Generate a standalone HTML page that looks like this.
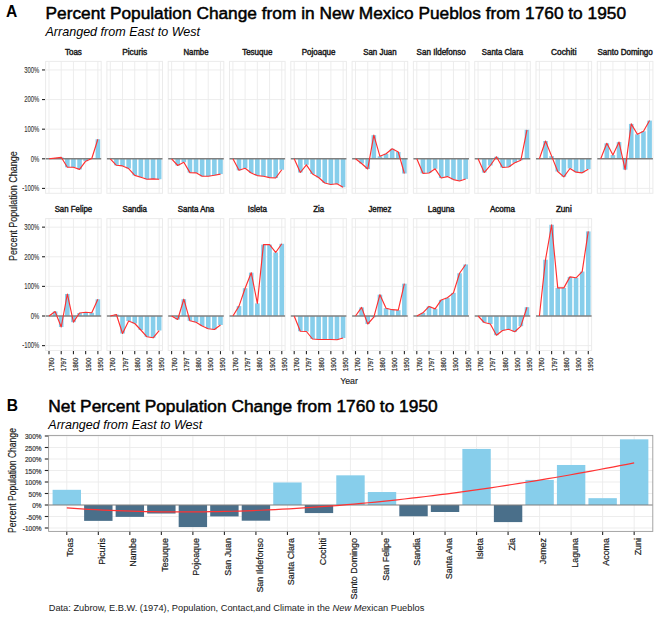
<!DOCTYPE html><html><head><meta charset="utf-8"><title>Percent Population Change in New Mexico Pueblos</title>
<style>html,body{margin:0;padding:0;background:#fff;}svg{display:block;}</style></head><body>
<svg width="660" height="618" viewBox="0 0 660 618" font-family="Liberation Sans, sans-serif">
<rect width="660" height="618" fill="#fff"/>
<text x="6.00" y="17.00" font-size="15.60" font-weight="bold">A</text>
<text x="45.50" y="19.00" font-size="17.40" textLength="580.50" lengthAdjust="spacingAndGlyphs" stroke="#000" stroke-width="0.5">Percent Population Change from in New Mexico Pueblos from 1760 to 1950</text>
<text x="45.50" y="35.50" font-size="12.60" font-style="italic" textLength="154.50" lengthAdjust="spacingAndGlyphs">Arranged from East to West</text>
<rect x="45.60" y="61.40" width="55.60" height="131.90" fill="#fff" stroke="#EBEBEB" stroke-width="1"/>
<line x1="49.00" y1="61.40" x2="49.00" y2="193.30" stroke="#EBEBEB" stroke-width="0.9"/>
<line x1="61.22" y1="61.40" x2="61.22" y2="193.30" stroke="#EBEBEB" stroke-width="0.9"/>
<line x1="73.44" y1="61.40" x2="73.44" y2="193.30" stroke="#EBEBEB" stroke-width="0.9"/>
<line x1="85.66" y1="61.40" x2="85.66" y2="193.30" stroke="#EBEBEB" stroke-width="0.9"/>
<line x1="97.88" y1="61.40" x2="97.88" y2="193.30" stroke="#EBEBEB" stroke-width="0.9"/>
<line x1="45.60" y1="69.94" x2="101.20" y2="69.94" stroke="#EBEBEB" stroke-width="0.9"/>
<line x1="45.60" y1="99.56" x2="101.20" y2="99.56" stroke="#EBEBEB" stroke-width="0.9"/>
<line x1="45.60" y1="129.18" x2="101.20" y2="129.18" stroke="#EBEBEB" stroke-width="0.9"/>
<line x1="45.60" y1="188.42" x2="101.20" y2="188.42" stroke="#EBEBEB" stroke-width="0.9"/>
<rect x="52.81" y="158.06" width="4.60" height="0.74" fill="#87CEEB"/>
<rect x="58.92" y="157.32" width="4.60" height="1.48" fill="#87CEEB"/>
<rect x="65.03" y="158.80" width="4.60" height="8.47" fill="#87CEEB"/>
<rect x="71.14" y="158.80" width="4.60" height="8.47" fill="#87CEEB"/>
<rect x="77.25" y="158.80" width="4.60" height="10.60" fill="#87CEEB"/>
<rect x="83.36" y="158.80" width="4.60" height="2.37" fill="#87CEEB"/>
<rect x="89.47" y="158.50" width="4.60" height="0.30" fill="#87CEEB"/>
<rect x="95.58" y="139.25" width="4.60" height="19.55" fill="#87CEEB"/>
<line x1="45.60" y1="158.80" x2="101.20" y2="158.80" stroke="#808080" stroke-width="1.6"/>
<polyline points="49.00,158.80 55.11,158.06 61.22,157.32 67.33,167.27 73.44,167.27 79.55,169.40 85.66,161.17 91.77,158.50 97.88,139.25" fill="none" stroke="#FF3030" stroke-width="1.15" stroke-linejoin="round"/>
<text x="73.40" y="54.50" font-size="8.20" text-anchor="middle" textLength="16.95" lengthAdjust="spacingAndGlyphs" fill="#1a1a1a" stroke="#1a1a1a" stroke-width="0.42">Toas</text>
<rect x="106.90" y="61.40" width="55.60" height="131.90" fill="#fff" stroke="#EBEBEB" stroke-width="1"/>
<line x1="110.30" y1="61.40" x2="110.30" y2="193.30" stroke="#EBEBEB" stroke-width="0.9"/>
<line x1="122.52" y1="61.40" x2="122.52" y2="193.30" stroke="#EBEBEB" stroke-width="0.9"/>
<line x1="134.74" y1="61.40" x2="134.74" y2="193.30" stroke="#EBEBEB" stroke-width="0.9"/>
<line x1="146.96" y1="61.40" x2="146.96" y2="193.30" stroke="#EBEBEB" stroke-width="0.9"/>
<line x1="159.18" y1="61.40" x2="159.18" y2="193.30" stroke="#EBEBEB" stroke-width="0.9"/>
<line x1="106.90" y1="69.94" x2="162.50" y2="69.94" stroke="#EBEBEB" stroke-width="0.9"/>
<line x1="106.90" y1="99.56" x2="162.50" y2="99.56" stroke="#EBEBEB" stroke-width="0.9"/>
<line x1="106.90" y1="129.18" x2="162.50" y2="129.18" stroke="#EBEBEB" stroke-width="0.9"/>
<line x1="106.90" y1="188.42" x2="162.50" y2="188.42" stroke="#EBEBEB" stroke-width="0.9"/>
<rect x="114.11" y="158.80" width="4.60" height="6.49" fill="#87CEEB"/>
<rect x="120.22" y="158.80" width="4.60" height="7.11" fill="#87CEEB"/>
<rect x="126.33" y="158.80" width="4.60" height="9.77" fill="#87CEEB"/>
<rect x="132.44" y="158.80" width="4.60" height="16.59" fill="#87CEEB"/>
<rect x="138.55" y="158.80" width="4.60" height="18.48" fill="#87CEEB"/>
<rect x="144.66" y="158.80" width="4.60" height="20.44" fill="#87CEEB"/>
<rect x="150.77" y="158.80" width="4.60" height="20.08" fill="#87CEEB"/>
<rect x="156.88" y="158.80" width="4.60" height="20.44" fill="#87CEEB"/>
<line x1="106.90" y1="158.80" x2="162.50" y2="158.80" stroke="#808080" stroke-width="1.6"/>
<polyline points="110.30,158.80 116.41,165.29 122.52,165.91 128.63,168.57 134.74,175.39 140.85,177.28 146.96,179.24 153.07,178.88 159.18,179.24" fill="none" stroke="#FF3030" stroke-width="1.15" stroke-linejoin="round"/>
<text x="134.70" y="54.50" font-size="8.20" text-anchor="middle" textLength="25.01" lengthAdjust="spacingAndGlyphs" fill="#1a1a1a" stroke="#1a1a1a" stroke-width="0.42">Picuris</text>
<rect x="168.20" y="61.40" width="55.60" height="131.90" fill="#fff" stroke="#EBEBEB" stroke-width="1"/>
<line x1="171.60" y1="61.40" x2="171.60" y2="193.30" stroke="#EBEBEB" stroke-width="0.9"/>
<line x1="183.82" y1="61.40" x2="183.82" y2="193.30" stroke="#EBEBEB" stroke-width="0.9"/>
<line x1="196.04" y1="61.40" x2="196.04" y2="193.30" stroke="#EBEBEB" stroke-width="0.9"/>
<line x1="208.26" y1="61.40" x2="208.26" y2="193.30" stroke="#EBEBEB" stroke-width="0.9"/>
<line x1="220.48" y1="61.40" x2="220.48" y2="193.30" stroke="#EBEBEB" stroke-width="0.9"/>
<line x1="168.20" y1="69.94" x2="223.80" y2="69.94" stroke="#EBEBEB" stroke-width="0.9"/>
<line x1="168.20" y1="99.56" x2="223.80" y2="99.56" stroke="#EBEBEB" stroke-width="0.9"/>
<line x1="168.20" y1="129.18" x2="223.80" y2="129.18" stroke="#EBEBEB" stroke-width="0.9"/>
<line x1="168.20" y1="188.42" x2="223.80" y2="188.42" stroke="#EBEBEB" stroke-width="0.9"/>
<rect x="175.41" y="158.80" width="4.60" height="6.69" fill="#87CEEB"/>
<rect x="181.52" y="158.80" width="4.60" height="3.50" fill="#87CEEB"/>
<rect x="187.63" y="158.80" width="4.60" height="13.80" fill="#87CEEB"/>
<rect x="193.74" y="158.80" width="4.60" height="14.01" fill="#87CEEB"/>
<rect x="199.85" y="158.80" width="4.60" height="17.48" fill="#87CEEB"/>
<rect x="205.96" y="158.80" width="4.60" height="17.48" fill="#87CEEB"/>
<rect x="212.07" y="158.80" width="4.60" height="16.50" fill="#87CEEB"/>
<rect x="218.18" y="158.80" width="4.60" height="15.28" fill="#87CEEB"/>
<line x1="168.20" y1="158.80" x2="223.80" y2="158.80" stroke="#808080" stroke-width="1.6"/>
<polyline points="171.60,158.80 177.71,165.49 183.82,162.30 189.93,172.60 196.04,172.81 202.15,176.28 208.26,176.28 214.37,175.30 220.48,174.08" fill="none" stroke="#FF3030" stroke-width="1.15" stroke-linejoin="round"/>
<text x="196.00" y="54.50" font-size="8.20" text-anchor="middle" textLength="25.01" lengthAdjust="spacingAndGlyphs" fill="#1a1a1a" stroke="#1a1a1a" stroke-width="0.42">Nambe</text>
<rect x="229.50" y="61.40" width="55.60" height="131.90" fill="#fff" stroke="#EBEBEB" stroke-width="1"/>
<line x1="232.90" y1="61.40" x2="232.90" y2="193.30" stroke="#EBEBEB" stroke-width="0.9"/>
<line x1="245.12" y1="61.40" x2="245.12" y2="193.30" stroke="#EBEBEB" stroke-width="0.9"/>
<line x1="257.34" y1="61.40" x2="257.34" y2="193.30" stroke="#EBEBEB" stroke-width="0.9"/>
<line x1="269.56" y1="61.40" x2="269.56" y2="193.30" stroke="#EBEBEB" stroke-width="0.9"/>
<line x1="281.78" y1="61.40" x2="281.78" y2="193.30" stroke="#EBEBEB" stroke-width="0.9"/>
<line x1="229.50" y1="69.94" x2="285.10" y2="69.94" stroke="#EBEBEB" stroke-width="0.9"/>
<line x1="229.50" y1="99.56" x2="285.10" y2="99.56" stroke="#EBEBEB" stroke-width="0.9"/>
<line x1="229.50" y1="129.18" x2="285.10" y2="129.18" stroke="#EBEBEB" stroke-width="0.9"/>
<line x1="229.50" y1="188.42" x2="285.10" y2="188.42" stroke="#EBEBEB" stroke-width="0.9"/>
<rect x="236.71" y="158.80" width="4.60" height="11.49" fill="#87CEEB"/>
<rect x="242.82" y="158.80" width="4.60" height="9.48" fill="#87CEEB"/>
<rect x="248.93" y="158.80" width="4.60" height="14.22" fill="#87CEEB"/>
<rect x="255.04" y="158.80" width="4.60" height="16.79" fill="#87CEEB"/>
<rect x="261.15" y="158.80" width="4.60" height="17.48" fill="#87CEEB"/>
<rect x="267.26" y="158.80" width="4.60" height="18.81" fill="#87CEEB"/>
<rect x="273.37" y="158.80" width="4.60" height="19.19" fill="#87CEEB"/>
<rect x="279.48" y="158.80" width="4.60" height="10.96" fill="#87CEEB"/>
<line x1="229.50" y1="158.80" x2="285.10" y2="158.80" stroke="#808080" stroke-width="1.6"/>
<polyline points="232.90,158.80 239.01,170.29 245.12,168.28 251.23,173.02 257.34,175.59 263.45,176.28 269.56,177.61 275.67,177.99 281.78,169.76" fill="none" stroke="#FF3030" stroke-width="1.15" stroke-linejoin="round"/>
<text x="257.30" y="54.50" font-size="8.20" text-anchor="middle" textLength="30.28" lengthAdjust="spacingAndGlyphs" fill="#1a1a1a" stroke="#1a1a1a" stroke-width="0.42">Tesuque</text>
<rect x="290.80" y="61.40" width="55.60" height="131.90" fill="#fff" stroke="#EBEBEB" stroke-width="1"/>
<line x1="294.20" y1="61.40" x2="294.20" y2="193.30" stroke="#EBEBEB" stroke-width="0.9"/>
<line x1="306.42" y1="61.40" x2="306.42" y2="193.30" stroke="#EBEBEB" stroke-width="0.9"/>
<line x1="318.64" y1="61.40" x2="318.64" y2="193.30" stroke="#EBEBEB" stroke-width="0.9"/>
<line x1="330.86" y1="61.40" x2="330.86" y2="193.30" stroke="#EBEBEB" stroke-width="0.9"/>
<line x1="343.08" y1="61.40" x2="343.08" y2="193.30" stroke="#EBEBEB" stroke-width="0.9"/>
<line x1="290.80" y1="69.94" x2="346.40" y2="69.94" stroke="#EBEBEB" stroke-width="0.9"/>
<line x1="290.80" y1="99.56" x2="346.40" y2="99.56" stroke="#EBEBEB" stroke-width="0.9"/>
<line x1="290.80" y1="129.18" x2="346.40" y2="129.18" stroke="#EBEBEB" stroke-width="0.9"/>
<line x1="290.80" y1="188.42" x2="346.40" y2="188.42" stroke="#EBEBEB" stroke-width="0.9"/>
<rect x="298.01" y="158.80" width="4.60" height="13.71" fill="#87CEEB"/>
<rect x="304.12" y="158.80" width="4.60" height="6.01" fill="#87CEEB"/>
<rect x="310.23" y="158.80" width="4.60" height="15.20" fill="#87CEEB"/>
<rect x="316.34" y="158.80" width="4.60" height="18.69" fill="#87CEEB"/>
<rect x="322.45" y="158.80" width="4.60" height="24.20" fill="#87CEEB"/>
<rect x="328.56" y="158.80" width="4.60" height="25.71" fill="#87CEEB"/>
<rect x="334.67" y="158.80" width="4.60" height="25.00" fill="#87CEEB"/>
<rect x="340.78" y="158.80" width="4.60" height="28.41" fill="#87CEEB"/>
<line x1="290.80" y1="158.80" x2="346.40" y2="158.80" stroke="#808080" stroke-width="1.6"/>
<polyline points="294.20,158.80 300.31,172.51 306.42,164.81 312.53,174.00 318.64,177.49 324.75,183.00 330.86,184.51 336.97,183.80 343.08,187.21" fill="none" stroke="#FF3030" stroke-width="1.15" stroke-linejoin="round"/>
<text x="318.60" y="54.50" font-size="8.20" text-anchor="middle" textLength="33.75" lengthAdjust="spacingAndGlyphs" fill="#1a1a1a" stroke="#1a1a1a" stroke-width="0.42">Pojoaque</text>
<rect x="352.10" y="61.40" width="55.60" height="131.90" fill="#fff" stroke="#EBEBEB" stroke-width="1"/>
<line x1="355.50" y1="61.40" x2="355.50" y2="193.30" stroke="#EBEBEB" stroke-width="0.9"/>
<line x1="367.72" y1="61.40" x2="367.72" y2="193.30" stroke="#EBEBEB" stroke-width="0.9"/>
<line x1="379.94" y1="61.40" x2="379.94" y2="193.30" stroke="#EBEBEB" stroke-width="0.9"/>
<line x1="392.16" y1="61.40" x2="392.16" y2="193.30" stroke="#EBEBEB" stroke-width="0.9"/>
<line x1="404.38" y1="61.40" x2="404.38" y2="193.30" stroke="#EBEBEB" stroke-width="0.9"/>
<line x1="352.10" y1="69.94" x2="407.70" y2="69.94" stroke="#EBEBEB" stroke-width="0.9"/>
<line x1="352.10" y1="99.56" x2="407.70" y2="99.56" stroke="#EBEBEB" stroke-width="0.9"/>
<line x1="352.10" y1="129.18" x2="407.70" y2="129.18" stroke="#EBEBEB" stroke-width="0.9"/>
<line x1="352.10" y1="188.42" x2="407.70" y2="188.42" stroke="#EBEBEB" stroke-width="0.9"/>
<rect x="359.31" y="158.80" width="4.60" height="4.74" fill="#87CEEB"/>
<rect x="365.42" y="158.80" width="4.60" height="10.19" fill="#87CEEB"/>
<rect x="371.53" y="135.19" width="4.60" height="23.61" fill="#87CEEB"/>
<rect x="377.64" y="156.31" width="4.60" height="2.49" fill="#87CEEB"/>
<rect x="383.75" y="153.79" width="4.60" height="5.01" fill="#87CEEB"/>
<rect x="389.86" y="148.79" width="4.60" height="10.01" fill="#87CEEB"/>
<rect x="395.97" y="151.99" width="4.60" height="6.81" fill="#87CEEB"/>
<rect x="402.08" y="158.80" width="4.60" height="14.69" fill="#87CEEB"/>
<line x1="352.10" y1="158.80" x2="407.70" y2="158.80" stroke="#808080" stroke-width="1.6"/>
<polyline points="355.50,158.80 361.61,163.54 367.72,168.99 373.83,135.19 379.94,156.31 386.05,153.79 392.16,148.79 398.27,151.99 404.38,173.49" fill="none" stroke="#FF3030" stroke-width="1.15" stroke-linejoin="round"/>
<text x="379.90" y="54.50" font-size="8.20" text-anchor="middle" textLength="33.34" lengthAdjust="spacingAndGlyphs" fill="#1a1a1a" stroke="#1a1a1a" stroke-width="0.42">San Juan</text>
<rect x="413.40" y="61.40" width="55.60" height="131.90" fill="#fff" stroke="#EBEBEB" stroke-width="1"/>
<line x1="416.80" y1="61.40" x2="416.80" y2="193.30" stroke="#EBEBEB" stroke-width="0.9"/>
<line x1="429.02" y1="61.40" x2="429.02" y2="193.30" stroke="#EBEBEB" stroke-width="0.9"/>
<line x1="441.24" y1="61.40" x2="441.24" y2="193.30" stroke="#EBEBEB" stroke-width="0.9"/>
<line x1="453.46" y1="61.40" x2="453.46" y2="193.30" stroke="#EBEBEB" stroke-width="0.9"/>
<line x1="465.68" y1="61.40" x2="465.68" y2="193.30" stroke="#EBEBEB" stroke-width="0.9"/>
<line x1="413.40" y1="69.94" x2="469.00" y2="69.94" stroke="#EBEBEB" stroke-width="0.9"/>
<line x1="413.40" y1="99.56" x2="469.00" y2="99.56" stroke="#EBEBEB" stroke-width="0.9"/>
<line x1="413.40" y1="129.18" x2="469.00" y2="129.18" stroke="#EBEBEB" stroke-width="0.9"/>
<line x1="413.40" y1="188.42" x2="469.00" y2="188.42" stroke="#EBEBEB" stroke-width="0.9"/>
<rect x="420.61" y="158.80" width="4.60" height="14.51" fill="#87CEEB"/>
<rect x="426.72" y="158.80" width="4.60" height="14.22" fill="#87CEEB"/>
<rect x="432.83" y="158.80" width="4.60" height="10.01" fill="#87CEEB"/>
<rect x="438.94" y="158.80" width="4.60" height="19.19" fill="#87CEEB"/>
<rect x="445.05" y="158.80" width="4.60" height="17.77" fill="#87CEEB"/>
<rect x="451.16" y="158.80" width="4.60" height="20.79" fill="#87CEEB"/>
<rect x="457.27" y="158.80" width="4.60" height="22.22" fill="#87CEEB"/>
<rect x="463.38" y="158.80" width="4.60" height="20.20" fill="#87CEEB"/>
<line x1="413.40" y1="158.80" x2="469.00" y2="158.80" stroke="#808080" stroke-width="1.6"/>
<polyline points="416.80,158.80 422.91,173.31 429.02,173.02 435.13,168.81 441.24,177.99 447.35,176.57 453.46,179.59 459.57,181.02 465.68,179.00" fill="none" stroke="#FF3030" stroke-width="1.15" stroke-linejoin="round"/>
<text x="441.20" y="54.50" font-size="8.20" text-anchor="middle" textLength="49.17" lengthAdjust="spacingAndGlyphs" fill="#1a1a1a" stroke="#1a1a1a" stroke-width="0.42">San Ildefonso</text>
<rect x="474.70" y="61.40" width="55.60" height="131.90" fill="#fff" stroke="#EBEBEB" stroke-width="1"/>
<line x1="478.10" y1="61.40" x2="478.10" y2="193.30" stroke="#EBEBEB" stroke-width="0.9"/>
<line x1="490.32" y1="61.40" x2="490.32" y2="193.30" stroke="#EBEBEB" stroke-width="0.9"/>
<line x1="502.54" y1="61.40" x2="502.54" y2="193.30" stroke="#EBEBEB" stroke-width="0.9"/>
<line x1="514.76" y1="61.40" x2="514.76" y2="193.30" stroke="#EBEBEB" stroke-width="0.9"/>
<line x1="526.98" y1="61.40" x2="526.98" y2="193.30" stroke="#EBEBEB" stroke-width="0.9"/>
<line x1="474.70" y1="69.94" x2="530.30" y2="69.94" stroke="#EBEBEB" stroke-width="0.9"/>
<line x1="474.70" y1="99.56" x2="530.30" y2="99.56" stroke="#EBEBEB" stroke-width="0.9"/>
<line x1="474.70" y1="129.18" x2="530.30" y2="129.18" stroke="#EBEBEB" stroke-width="0.9"/>
<line x1="474.70" y1="188.42" x2="530.30" y2="188.42" stroke="#EBEBEB" stroke-width="0.9"/>
<rect x="481.91" y="158.80" width="4.60" height="13.71" fill="#87CEEB"/>
<rect x="488.02" y="158.80" width="4.60" height="6.69" fill="#87CEEB"/>
<rect x="494.13" y="156.79" width="4.60" height="2.01" fill="#87CEEB"/>
<rect x="500.24" y="158.80" width="4.60" height="8.71" fill="#87CEEB"/>
<rect x="506.35" y="158.80" width="4.60" height="8.20" fill="#87CEEB"/>
<rect x="512.46" y="158.80" width="4.60" height="4.00" fill="#87CEEB"/>
<rect x="518.57" y="158.80" width="4.60" height="1.39" fill="#87CEEB"/>
<rect x="524.68" y="129.80" width="4.60" height="29.00" fill="#87CEEB"/>
<line x1="474.70" y1="158.80" x2="530.30" y2="158.80" stroke="#808080" stroke-width="1.6"/>
<polyline points="478.10,158.80 484.21,172.51 490.32,165.49 496.43,156.79 502.54,167.51 508.65,167.00 514.76,162.80 520.87,160.19 526.98,129.80" fill="none" stroke="#FF3030" stroke-width="1.15" stroke-linejoin="round"/>
<text x="502.50" y="54.50" font-size="8.20" text-anchor="middle" textLength="41.27" lengthAdjust="spacingAndGlyphs" fill="#1a1a1a" stroke="#1a1a1a" stroke-width="0.42">Santa Clara</text>
<rect x="536.00" y="61.40" width="55.60" height="131.90" fill="#fff" stroke="#EBEBEB" stroke-width="1"/>
<line x1="539.40" y1="61.40" x2="539.40" y2="193.30" stroke="#EBEBEB" stroke-width="0.9"/>
<line x1="551.62" y1="61.40" x2="551.62" y2="193.30" stroke="#EBEBEB" stroke-width="0.9"/>
<line x1="563.84" y1="61.40" x2="563.84" y2="193.30" stroke="#EBEBEB" stroke-width="0.9"/>
<line x1="576.06" y1="61.40" x2="576.06" y2="193.30" stroke="#EBEBEB" stroke-width="0.9"/>
<line x1="588.28" y1="61.40" x2="588.28" y2="193.30" stroke="#EBEBEB" stroke-width="0.9"/>
<line x1="536.00" y1="69.94" x2="591.60" y2="69.94" stroke="#EBEBEB" stroke-width="0.9"/>
<line x1="536.00" y1="99.56" x2="591.60" y2="99.56" stroke="#EBEBEB" stroke-width="0.9"/>
<line x1="536.00" y1="129.18" x2="591.60" y2="129.18" stroke="#EBEBEB" stroke-width="0.9"/>
<line x1="536.00" y1="188.42" x2="591.60" y2="188.42" stroke="#EBEBEB" stroke-width="0.9"/>
<rect x="543.21" y="141.00" width="4.60" height="17.80" fill="#87CEEB"/>
<rect x="549.32" y="156.13" width="4.60" height="2.67" fill="#87CEEB"/>
<rect x="555.43" y="158.80" width="4.60" height="12.71" fill="#87CEEB"/>
<rect x="561.54" y="158.80" width="4.60" height="18.01" fill="#87CEEB"/>
<rect x="567.65" y="158.80" width="4.60" height="9.69" fill="#87CEEB"/>
<rect x="573.76" y="158.80" width="4.60" height="13.39" fill="#87CEEB"/>
<rect x="579.87" y="158.80" width="4.60" height="14.01" fill="#87CEEB"/>
<rect x="585.98" y="158.80" width="4.60" height="10.40" fill="#87CEEB"/>
<line x1="536.00" y1="158.80" x2="591.60" y2="158.80" stroke="#808080" stroke-width="1.6"/>
<polyline points="539.40,158.80 545.51,141.00 551.62,156.13 557.73,171.51 563.84,176.81 569.95,168.49 576.06,172.19 582.17,172.81 588.28,169.20" fill="none" stroke="#FF3030" stroke-width="1.15" stroke-linejoin="round"/>
<text x="563.80" y="54.50" font-size="8.20" text-anchor="middle" textLength="25.41" lengthAdjust="spacingAndGlyphs" fill="#1a1a1a" stroke="#1a1a1a" stroke-width="0.42">Cochiti</text>
<rect x="597.30" y="61.40" width="55.60" height="131.90" fill="#fff" stroke="#EBEBEB" stroke-width="1"/>
<line x1="600.70" y1="61.40" x2="600.70" y2="193.30" stroke="#EBEBEB" stroke-width="0.9"/>
<line x1="612.92" y1="61.40" x2="612.92" y2="193.30" stroke="#EBEBEB" stroke-width="0.9"/>
<line x1="625.14" y1="61.40" x2="625.14" y2="193.30" stroke="#EBEBEB" stroke-width="0.9"/>
<line x1="637.36" y1="61.40" x2="637.36" y2="193.30" stroke="#EBEBEB" stroke-width="0.9"/>
<line x1="649.58" y1="61.40" x2="649.58" y2="193.30" stroke="#EBEBEB" stroke-width="0.9"/>
<line x1="597.30" y1="69.94" x2="652.90" y2="69.94" stroke="#EBEBEB" stroke-width="0.9"/>
<line x1="597.30" y1="99.56" x2="652.90" y2="99.56" stroke="#EBEBEB" stroke-width="0.9"/>
<line x1="597.30" y1="129.18" x2="652.90" y2="129.18" stroke="#EBEBEB" stroke-width="0.9"/>
<line x1="597.30" y1="188.42" x2="652.90" y2="188.42" stroke="#EBEBEB" stroke-width="0.9"/>
<rect x="604.51" y="143.31" width="4.60" height="15.49" fill="#87CEEB"/>
<rect x="610.62" y="155.10" width="4.60" height="3.70" fill="#87CEEB"/>
<rect x="616.73" y="142.09" width="4.60" height="16.71" fill="#87CEEB"/>
<rect x="622.84" y="158.80" width="4.60" height="10.81" fill="#87CEEB"/>
<rect x="628.95" y="123.91" width="4.60" height="34.89" fill="#87CEEB"/>
<rect x="635.06" y="134.30" width="4.60" height="24.50" fill="#87CEEB"/>
<rect x="641.17" y="131.31" width="4.60" height="27.49" fill="#87CEEB"/>
<rect x="647.28" y="120.59" width="4.60" height="38.21" fill="#87CEEB"/>
<line x1="597.30" y1="158.80" x2="652.90" y2="158.80" stroke="#808080" stroke-width="1.6"/>
<polyline points="600.70,158.80 606.81,143.31 612.92,155.10 619.03,142.09 625.14,169.61 631.25,123.91 637.36,134.30 643.47,131.31 649.58,120.59" fill="none" stroke="#FF3030" stroke-width="1.15" stroke-linejoin="round"/>
<text x="625.10" y="54.50" font-size="8.20" text-anchor="middle" textLength="55.41" lengthAdjust="spacingAndGlyphs" fill="#1a1a1a" stroke="#1a1a1a" stroke-width="0.42">Santo Domingo</text>
<rect x="45.60" y="218.60" width="55.60" height="131.90" fill="#fff" stroke="#EBEBEB" stroke-width="1"/>
<line x1="49.00" y1="218.60" x2="49.00" y2="350.50" stroke="#EBEBEB" stroke-width="0.9"/>
<line x1="61.22" y1="218.60" x2="61.22" y2="350.50" stroke="#EBEBEB" stroke-width="0.9"/>
<line x1="73.44" y1="218.60" x2="73.44" y2="350.50" stroke="#EBEBEB" stroke-width="0.9"/>
<line x1="85.66" y1="218.60" x2="85.66" y2="350.50" stroke="#EBEBEB" stroke-width="0.9"/>
<line x1="97.88" y1="218.60" x2="97.88" y2="350.50" stroke="#EBEBEB" stroke-width="0.9"/>
<line x1="45.60" y1="227.14" x2="101.20" y2="227.14" stroke="#EBEBEB" stroke-width="0.9"/>
<line x1="45.60" y1="256.76" x2="101.20" y2="256.76" stroke="#EBEBEB" stroke-width="0.9"/>
<line x1="45.60" y1="286.38" x2="101.20" y2="286.38" stroke="#EBEBEB" stroke-width="0.9"/>
<line x1="45.60" y1="345.62" x2="101.20" y2="345.62" stroke="#EBEBEB" stroke-width="0.9"/>
<rect x="52.81" y="311.50" width="4.60" height="4.50" fill="#87CEEB"/>
<rect x="58.92" y="316.00" width="4.60" height="10.99" fill="#87CEEB"/>
<rect x="65.03" y="293.99" width="4.60" height="22.01" fill="#87CEEB"/>
<rect x="71.14" y="316.00" width="4.60" height="6.19" fill="#87CEEB"/>
<rect x="77.25" y="313.01" width="4.60" height="2.99" fill="#87CEEB"/>
<rect x="83.36" y="312.21" width="4.60" height="3.79" fill="#87CEEB"/>
<rect x="89.47" y="312.80" width="4.60" height="3.20" fill="#87CEEB"/>
<rect x="95.58" y="299.29" width="4.60" height="16.71" fill="#87CEEB"/>
<line x1="45.60" y1="316.00" x2="101.20" y2="316.00" stroke="#808080" stroke-width="1.6"/>
<polyline points="49.00,316.00 55.11,311.50 61.22,326.99 67.33,293.99 73.44,322.19 79.55,313.01 85.66,312.21 91.77,312.80 97.88,299.29" fill="none" stroke="#FF3030" stroke-width="1.15" stroke-linejoin="round"/>
<text x="73.40" y="211.70" font-size="8.20" text-anchor="middle" textLength="37.51" lengthAdjust="spacingAndGlyphs" fill="#1a1a1a" stroke="#1a1a1a" stroke-width="0.42">San Felipe</text>
<rect x="106.90" y="218.60" width="55.60" height="131.90" fill="#fff" stroke="#EBEBEB" stroke-width="1"/>
<line x1="110.30" y1="218.60" x2="110.30" y2="350.50" stroke="#EBEBEB" stroke-width="0.9"/>
<line x1="122.52" y1="218.60" x2="122.52" y2="350.50" stroke="#EBEBEB" stroke-width="0.9"/>
<line x1="134.74" y1="218.60" x2="134.74" y2="350.50" stroke="#EBEBEB" stroke-width="0.9"/>
<line x1="146.96" y1="218.60" x2="146.96" y2="350.50" stroke="#EBEBEB" stroke-width="0.9"/>
<line x1="159.18" y1="218.60" x2="159.18" y2="350.50" stroke="#EBEBEB" stroke-width="0.9"/>
<line x1="106.90" y1="227.14" x2="162.50" y2="227.14" stroke="#EBEBEB" stroke-width="0.9"/>
<line x1="106.90" y1="256.76" x2="162.50" y2="256.76" stroke="#EBEBEB" stroke-width="0.9"/>
<line x1="106.90" y1="286.38" x2="162.50" y2="286.38" stroke="#EBEBEB" stroke-width="0.9"/>
<line x1="106.90" y1="345.62" x2="162.50" y2="345.62" stroke="#EBEBEB" stroke-width="0.9"/>
<rect x="114.11" y="314.52" width="4.60" height="1.48" fill="#87CEEB"/>
<rect x="120.22" y="316.00" width="4.60" height="17.51" fill="#87CEEB"/>
<rect x="126.33" y="316.00" width="4.60" height="5.01" fill="#87CEEB"/>
<rect x="132.44" y="316.00" width="4.60" height="7.49" fill="#87CEEB"/>
<rect x="138.55" y="316.00" width="4.60" height="14.01" fill="#87CEEB"/>
<rect x="144.66" y="316.00" width="4.60" height="20.79" fill="#87CEEB"/>
<rect x="150.77" y="316.00" width="4.60" height="21.80" fill="#87CEEB"/>
<rect x="156.88" y="316.00" width="4.60" height="14.51" fill="#87CEEB"/>
<line x1="106.90" y1="316.00" x2="162.50" y2="316.00" stroke="#808080" stroke-width="1.6"/>
<polyline points="110.30,316.00 116.41,314.52 122.52,333.51 128.63,321.01 134.74,323.49 140.85,330.01 146.96,336.79 153.07,337.80 159.18,330.51" fill="none" stroke="#FF3030" stroke-width="1.15" stroke-linejoin="round"/>
<text x="134.70" y="211.70" font-size="8.20" text-anchor="middle" textLength="24.59" lengthAdjust="spacingAndGlyphs" fill="#1a1a1a" stroke="#1a1a1a" stroke-width="0.42">Sandia</text>
<rect x="168.20" y="218.60" width="55.60" height="131.90" fill="#fff" stroke="#EBEBEB" stroke-width="1"/>
<line x1="171.60" y1="218.60" x2="171.60" y2="350.50" stroke="#EBEBEB" stroke-width="0.9"/>
<line x1="183.82" y1="218.60" x2="183.82" y2="350.50" stroke="#EBEBEB" stroke-width="0.9"/>
<line x1="196.04" y1="218.60" x2="196.04" y2="350.50" stroke="#EBEBEB" stroke-width="0.9"/>
<line x1="208.26" y1="218.60" x2="208.26" y2="350.50" stroke="#EBEBEB" stroke-width="0.9"/>
<line x1="220.48" y1="218.60" x2="220.48" y2="350.50" stroke="#EBEBEB" stroke-width="0.9"/>
<line x1="168.20" y1="227.14" x2="223.80" y2="227.14" stroke="#EBEBEB" stroke-width="0.9"/>
<line x1="168.20" y1="256.76" x2="223.80" y2="256.76" stroke="#EBEBEB" stroke-width="0.9"/>
<line x1="168.20" y1="286.38" x2="223.80" y2="286.38" stroke="#EBEBEB" stroke-width="0.9"/>
<line x1="168.20" y1="345.62" x2="223.80" y2="345.62" stroke="#EBEBEB" stroke-width="0.9"/>
<rect x="175.41" y="316.00" width="4.60" height="3.50" fill="#87CEEB"/>
<rect x="181.52" y="299.21" width="4.60" height="16.79" fill="#87CEEB"/>
<rect x="187.63" y="316.00" width="4.60" height="4.80" fill="#87CEEB"/>
<rect x="193.74" y="316.00" width="4.60" height="6.19" fill="#87CEEB"/>
<rect x="199.85" y="316.00" width="4.60" height="10.01" fill="#87CEEB"/>
<rect x="205.96" y="316.00" width="4.60" height="12.80" fill="#87CEEB"/>
<rect x="212.07" y="316.00" width="4.60" height="13.51" fill="#87CEEB"/>
<rect x="218.18" y="316.00" width="4.60" height="9.00" fill="#87CEEB"/>
<line x1="168.20" y1="316.00" x2="223.80" y2="316.00" stroke="#808080" stroke-width="1.6"/>
<polyline points="171.60,316.00 177.71,319.50 183.82,299.21 189.93,320.80 196.04,322.19 202.15,326.01 208.26,328.80 214.37,329.51 220.48,325.00" fill="none" stroke="#FF3030" stroke-width="1.15" stroke-linejoin="round"/>
<text x="196.00" y="211.70" font-size="8.20" text-anchor="middle" textLength="36.40" lengthAdjust="spacingAndGlyphs" fill="#1a1a1a" stroke="#1a1a1a" stroke-width="0.42">Santa Ana</text>
<rect x="229.50" y="218.60" width="55.60" height="131.90" fill="#fff" stroke="#EBEBEB" stroke-width="1"/>
<line x1="232.90" y1="218.60" x2="232.90" y2="350.50" stroke="#EBEBEB" stroke-width="0.9"/>
<line x1="245.12" y1="218.60" x2="245.12" y2="350.50" stroke="#EBEBEB" stroke-width="0.9"/>
<line x1="257.34" y1="218.60" x2="257.34" y2="350.50" stroke="#EBEBEB" stroke-width="0.9"/>
<line x1="269.56" y1="218.60" x2="269.56" y2="350.50" stroke="#EBEBEB" stroke-width="0.9"/>
<line x1="281.78" y1="218.60" x2="281.78" y2="350.50" stroke="#EBEBEB" stroke-width="0.9"/>
<line x1="229.50" y1="227.14" x2="285.10" y2="227.14" stroke="#EBEBEB" stroke-width="0.9"/>
<line x1="229.50" y1="256.76" x2="285.10" y2="256.76" stroke="#EBEBEB" stroke-width="0.9"/>
<line x1="229.50" y1="286.38" x2="285.10" y2="286.38" stroke="#EBEBEB" stroke-width="0.9"/>
<line x1="229.50" y1="345.62" x2="285.10" y2="345.62" stroke="#EBEBEB" stroke-width="0.9"/>
<rect x="236.71" y="306.11" width="4.60" height="9.89" fill="#87CEEB"/>
<rect x="242.82" y="288.22" width="4.60" height="27.78" fill="#87CEEB"/>
<rect x="248.93" y="272.67" width="4.60" height="43.33" fill="#87CEEB"/>
<rect x="255.04" y="303.35" width="4.60" height="12.65" fill="#87CEEB"/>
<rect x="261.15" y="244.62" width="4.60" height="71.38" fill="#87CEEB"/>
<rect x="267.26" y="244.62" width="4.60" height="71.38" fill="#87CEEB"/>
<rect x="273.37" y="252.47" width="4.60" height="63.53" fill="#87CEEB"/>
<rect x="279.48" y="243.79" width="4.60" height="72.21" fill="#87CEEB"/>
<line x1="229.50" y1="316.00" x2="285.10" y2="316.00" stroke="#808080" stroke-width="1.6"/>
<polyline points="232.90,316.00 239.01,306.11 245.12,288.22 251.23,272.67 257.34,303.35 263.45,244.62 269.56,244.62 275.67,252.47 281.78,243.79" fill="none" stroke="#FF3030" stroke-width="1.15" stroke-linejoin="round"/>
<text x="257.30" y="211.70" font-size="8.20" text-anchor="middle" textLength="19.18" lengthAdjust="spacingAndGlyphs" fill="#1a1a1a" stroke="#1a1a1a" stroke-width="0.42">Isleta</text>
<rect x="290.80" y="218.60" width="55.60" height="131.90" fill="#fff" stroke="#EBEBEB" stroke-width="1"/>
<line x1="294.20" y1="218.60" x2="294.20" y2="350.50" stroke="#EBEBEB" stroke-width="0.9"/>
<line x1="306.42" y1="218.60" x2="306.42" y2="350.50" stroke="#EBEBEB" stroke-width="0.9"/>
<line x1="318.64" y1="218.60" x2="318.64" y2="350.50" stroke="#EBEBEB" stroke-width="0.9"/>
<line x1="330.86" y1="218.60" x2="330.86" y2="350.50" stroke="#EBEBEB" stroke-width="0.9"/>
<line x1="343.08" y1="218.60" x2="343.08" y2="350.50" stroke="#EBEBEB" stroke-width="0.9"/>
<line x1="290.80" y1="227.14" x2="346.40" y2="227.14" stroke="#EBEBEB" stroke-width="0.9"/>
<line x1="290.80" y1="256.76" x2="346.40" y2="256.76" stroke="#EBEBEB" stroke-width="0.9"/>
<line x1="290.80" y1="286.38" x2="346.40" y2="286.38" stroke="#EBEBEB" stroke-width="0.9"/>
<line x1="290.80" y1="345.62" x2="346.40" y2="345.62" stroke="#EBEBEB" stroke-width="0.9"/>
<rect x="298.01" y="316.00" width="4.60" height="15.20" fill="#87CEEB"/>
<rect x="304.12" y="316.00" width="4.60" height="15.49" fill="#87CEEB"/>
<rect x="310.23" y="316.00" width="4.60" height="22.99" fill="#87CEEB"/>
<rect x="316.34" y="316.00" width="4.60" height="23.49" fill="#87CEEB"/>
<rect x="322.45" y="316.00" width="4.60" height="23.49" fill="#87CEEB"/>
<rect x="328.56" y="316.00" width="4.60" height="23.49" fill="#87CEEB"/>
<rect x="334.67" y="316.00" width="4.60" height="23.78" fill="#87CEEB"/>
<rect x="340.78" y="316.00" width="4.60" height="22.01" fill="#87CEEB"/>
<line x1="290.80" y1="316.00" x2="346.40" y2="316.00" stroke="#808080" stroke-width="1.6"/>
<polyline points="294.20,316.00 300.31,331.20 306.42,331.49 312.53,338.99 318.64,339.49 324.75,339.49 330.86,339.49 336.97,339.78 343.08,338.01" fill="none" stroke="#FF3030" stroke-width="1.15" stroke-linejoin="round"/>
<text x="318.60" y="211.70" font-size="8.20" text-anchor="middle" textLength="10.84" lengthAdjust="spacingAndGlyphs" fill="#1a1a1a" stroke="#1a1a1a" stroke-width="0.42">Zia</text>
<rect x="352.10" y="218.60" width="55.60" height="131.90" fill="#fff" stroke="#EBEBEB" stroke-width="1"/>
<line x1="355.50" y1="218.60" x2="355.50" y2="350.50" stroke="#EBEBEB" stroke-width="0.9"/>
<line x1="367.72" y1="218.60" x2="367.72" y2="350.50" stroke="#EBEBEB" stroke-width="0.9"/>
<line x1="379.94" y1="218.60" x2="379.94" y2="350.50" stroke="#EBEBEB" stroke-width="0.9"/>
<line x1="392.16" y1="218.60" x2="392.16" y2="350.50" stroke="#EBEBEB" stroke-width="0.9"/>
<line x1="404.38" y1="218.60" x2="404.38" y2="350.50" stroke="#EBEBEB" stroke-width="0.9"/>
<line x1="352.10" y1="227.14" x2="407.70" y2="227.14" stroke="#EBEBEB" stroke-width="0.9"/>
<line x1="352.10" y1="256.76" x2="407.70" y2="256.76" stroke="#EBEBEB" stroke-width="0.9"/>
<line x1="352.10" y1="286.38" x2="407.70" y2="286.38" stroke="#EBEBEB" stroke-width="0.9"/>
<line x1="352.10" y1="345.62" x2="407.70" y2="345.62" stroke="#EBEBEB" stroke-width="0.9"/>
<rect x="359.31" y="307.41" width="4.60" height="8.59" fill="#87CEEB"/>
<rect x="365.42" y="316.00" width="4.60" height="8.00" fill="#87CEEB"/>
<rect x="371.53" y="316.00" width="4.60" height="1.18" fill="#87CEEB"/>
<rect x="377.64" y="294.70" width="4.60" height="21.30" fill="#87CEEB"/>
<rect x="383.75" y="308.21" width="4.60" height="7.79" fill="#87CEEB"/>
<rect x="389.86" y="309.69" width="4.60" height="6.31" fill="#87CEEB"/>
<rect x="395.97" y="310.19" width="4.60" height="5.81" fill="#87CEEB"/>
<rect x="402.08" y="283.71" width="4.60" height="32.29" fill="#87CEEB"/>
<line x1="352.10" y1="316.00" x2="407.70" y2="316.00" stroke="#808080" stroke-width="1.6"/>
<polyline points="355.50,316.00 361.61,307.41 367.72,324.00 373.83,317.18 379.94,294.70 386.05,308.21 392.16,309.69 398.27,310.19 404.38,283.71" fill="none" stroke="#FF3030" stroke-width="1.15" stroke-linejoin="round"/>
<text x="379.90" y="211.70" font-size="8.20" text-anchor="middle" textLength="22.93" lengthAdjust="spacingAndGlyphs" fill="#1a1a1a" stroke="#1a1a1a" stroke-width="0.42">Jemez</text>
<rect x="413.40" y="218.60" width="55.60" height="131.90" fill="#fff" stroke="#EBEBEB" stroke-width="1"/>
<line x1="416.80" y1="218.60" x2="416.80" y2="350.50" stroke="#EBEBEB" stroke-width="0.9"/>
<line x1="429.02" y1="218.60" x2="429.02" y2="350.50" stroke="#EBEBEB" stroke-width="0.9"/>
<line x1="441.24" y1="218.60" x2="441.24" y2="350.50" stroke="#EBEBEB" stroke-width="0.9"/>
<line x1="453.46" y1="218.60" x2="453.46" y2="350.50" stroke="#EBEBEB" stroke-width="0.9"/>
<line x1="465.68" y1="218.60" x2="465.68" y2="350.50" stroke="#EBEBEB" stroke-width="0.9"/>
<line x1="413.40" y1="227.14" x2="469.00" y2="227.14" stroke="#EBEBEB" stroke-width="0.9"/>
<line x1="413.40" y1="256.76" x2="469.00" y2="256.76" stroke="#EBEBEB" stroke-width="0.9"/>
<line x1="413.40" y1="286.38" x2="469.00" y2="286.38" stroke="#EBEBEB" stroke-width="0.9"/>
<line x1="413.40" y1="345.62" x2="469.00" y2="345.62" stroke="#EBEBEB" stroke-width="0.9"/>
<rect x="420.61" y="312.83" width="4.60" height="3.17" fill="#87CEEB"/>
<rect x="426.72" y="306.43" width="4.60" height="9.57" fill="#87CEEB"/>
<rect x="432.83" y="308.86" width="4.60" height="7.14" fill="#87CEEB"/>
<rect x="438.94" y="299.92" width="4.60" height="16.08" fill="#87CEEB"/>
<rect x="445.05" y="297.81" width="4.60" height="18.19" fill="#87CEEB"/>
<rect x="451.16" y="292.87" width="4.60" height="23.13" fill="#87CEEB"/>
<rect x="457.27" y="273.29" width="4.60" height="42.71" fill="#87CEEB"/>
<rect x="463.38" y="264.46" width="4.60" height="51.54" fill="#87CEEB"/>
<line x1="413.40" y1="316.00" x2="469.00" y2="316.00" stroke="#808080" stroke-width="1.6"/>
<polyline points="416.80,316.00 422.91,312.83 429.02,306.43 435.13,308.86 441.24,299.92 447.35,297.81 453.46,292.87 459.57,273.29 465.68,264.46" fill="none" stroke="#FF3030" stroke-width="1.15" stroke-linejoin="round"/>
<text x="441.20" y="211.70" font-size="8.20" text-anchor="middle" textLength="26.66" lengthAdjust="spacingAndGlyphs" fill="#1a1a1a" stroke="#1a1a1a" stroke-width="0.42">Laguna</text>
<rect x="474.70" y="218.60" width="55.60" height="131.90" fill="#fff" stroke="#EBEBEB" stroke-width="1"/>
<line x1="478.10" y1="218.60" x2="478.10" y2="350.50" stroke="#EBEBEB" stroke-width="0.9"/>
<line x1="490.32" y1="218.60" x2="490.32" y2="350.50" stroke="#EBEBEB" stroke-width="0.9"/>
<line x1="502.54" y1="218.60" x2="502.54" y2="350.50" stroke="#EBEBEB" stroke-width="0.9"/>
<line x1="514.76" y1="218.60" x2="514.76" y2="350.50" stroke="#EBEBEB" stroke-width="0.9"/>
<line x1="526.98" y1="218.60" x2="526.98" y2="350.50" stroke="#EBEBEB" stroke-width="0.9"/>
<line x1="474.70" y1="227.14" x2="530.30" y2="227.14" stroke="#EBEBEB" stroke-width="0.9"/>
<line x1="474.70" y1="256.76" x2="530.30" y2="256.76" stroke="#EBEBEB" stroke-width="0.9"/>
<line x1="474.70" y1="286.38" x2="530.30" y2="286.38" stroke="#EBEBEB" stroke-width="0.9"/>
<line x1="474.70" y1="345.62" x2="530.30" y2="345.62" stroke="#EBEBEB" stroke-width="0.9"/>
<rect x="481.91" y="316.00" width="4.60" height="6.49" fill="#87CEEB"/>
<rect x="488.02" y="316.00" width="4.60" height="8.00" fill="#87CEEB"/>
<rect x="494.13" y="316.00" width="4.60" height="19.19" fill="#87CEEB"/>
<rect x="500.24" y="316.00" width="4.60" height="14.51" fill="#87CEEB"/>
<rect x="506.35" y="316.00" width="4.60" height="13.21" fill="#87CEEB"/>
<rect x="512.46" y="316.00" width="4.60" height="15.79" fill="#87CEEB"/>
<rect x="518.57" y="316.00" width="4.60" height="10.19" fill="#87CEEB"/>
<rect x="524.68" y="307.20" width="4.60" height="8.80" fill="#87CEEB"/>
<line x1="474.70" y1="316.00" x2="530.30" y2="316.00" stroke="#808080" stroke-width="1.6"/>
<polyline points="478.10,316.00 484.21,322.49 490.32,324.00 496.43,335.19 502.54,330.51 508.65,329.21 514.76,331.79 520.87,326.19 526.98,307.20" fill="none" stroke="#FF3030" stroke-width="1.15" stroke-linejoin="round"/>
<text x="502.50" y="211.70" font-size="8.20" text-anchor="middle" textLength="25.01" lengthAdjust="spacingAndGlyphs" fill="#1a1a1a" stroke="#1a1a1a" stroke-width="0.42">Acoma</text>
<rect x="536.00" y="218.60" width="55.60" height="131.90" fill="#fff" stroke="#EBEBEB" stroke-width="1"/>
<line x1="539.40" y1="218.60" x2="539.40" y2="350.50" stroke="#EBEBEB" stroke-width="0.9"/>
<line x1="551.62" y1="218.60" x2="551.62" y2="350.50" stroke="#EBEBEB" stroke-width="0.9"/>
<line x1="563.84" y1="218.60" x2="563.84" y2="350.50" stroke="#EBEBEB" stroke-width="0.9"/>
<line x1="576.06" y1="218.60" x2="576.06" y2="350.50" stroke="#EBEBEB" stroke-width="0.9"/>
<line x1="588.28" y1="218.60" x2="588.28" y2="350.50" stroke="#EBEBEB" stroke-width="0.9"/>
<line x1="536.00" y1="227.14" x2="591.60" y2="227.14" stroke="#EBEBEB" stroke-width="0.9"/>
<line x1="536.00" y1="256.76" x2="591.60" y2="256.76" stroke="#EBEBEB" stroke-width="0.9"/>
<line x1="536.00" y1="286.38" x2="591.60" y2="286.38" stroke="#EBEBEB" stroke-width="0.9"/>
<line x1="536.00" y1="345.62" x2="591.60" y2="345.62" stroke="#EBEBEB" stroke-width="0.9"/>
<rect x="543.21" y="259.72" width="4.60" height="56.28" fill="#87CEEB"/>
<rect x="549.32" y="224.77" width="4.60" height="91.23" fill="#87CEEB"/>
<rect x="555.43" y="287.86" width="4.60" height="28.14" fill="#87CEEB"/>
<rect x="561.54" y="287.86" width="4.60" height="28.14" fill="#87CEEB"/>
<rect x="567.65" y="276.90" width="4.60" height="39.10" fill="#87CEEB"/>
<rect x="573.76" y="277.79" width="4.60" height="38.21" fill="#87CEEB"/>
<rect x="579.87" y="271.57" width="4.60" height="44.43" fill="#87CEEB"/>
<rect x="585.98" y="231.43" width="4.60" height="84.57" fill="#87CEEB"/>
<line x1="536.00" y1="316.00" x2="591.60" y2="316.00" stroke="#808080" stroke-width="1.6"/>
<polyline points="539.40,316.00 545.51,259.72 551.62,224.77 557.73,287.86 563.84,287.86 569.95,276.90 576.06,277.79 582.17,271.57 588.28,231.43" fill="none" stroke="#FF3030" stroke-width="1.15" stroke-linejoin="round"/>
<text x="563.80" y="211.70" font-size="8.20" text-anchor="middle" textLength="15.83" lengthAdjust="spacingAndGlyphs" fill="#1a1a1a" stroke="#1a1a1a" stroke-width="0.42">Zuni</text>
<line x1="42" y1="69.94" x2="45" y2="69.94" stroke="#262626" stroke-width="1.1"/>
<text x="39.30" y="72.79" font-size="8.20" text-anchor="end" textLength="15.10" lengthAdjust="spacingAndGlyphs" fill="#333" stroke="#333" stroke-width="0.1">300%</text>
<line x1="42" y1="99.56" x2="45" y2="99.56" stroke="#262626" stroke-width="1.1"/>
<text x="39.30" y="102.41" font-size="8.20" text-anchor="end" textLength="15.10" lengthAdjust="spacingAndGlyphs" fill="#333" stroke="#333" stroke-width="0.1">200%</text>
<line x1="42" y1="129.18" x2="45" y2="129.18" stroke="#262626" stroke-width="1.1"/>
<text x="39.30" y="132.03" font-size="8.20" text-anchor="end" textLength="15.10" lengthAdjust="spacingAndGlyphs" fill="#333" stroke="#333" stroke-width="0.1">100%</text>
<line x1="42" y1="158.80" x2="45" y2="158.80" stroke="#262626" stroke-width="1.1"/>
<text x="39.30" y="161.65" font-size="8.20" text-anchor="end" textLength="8.53" lengthAdjust="spacingAndGlyphs" fill="#333" stroke="#333" stroke-width="0.1">0%</text>
<line x1="42" y1="188.42" x2="45" y2="188.42" stroke="#262626" stroke-width="1.1"/>
<text x="39.30" y="191.27" font-size="8.20" text-anchor="end" textLength="17.07" lengthAdjust="spacingAndGlyphs" fill="#333" stroke="#333" stroke-width="0.1">-100%</text>
<line x1="42" y1="227.14" x2="45" y2="227.14" stroke="#262626" stroke-width="1.1"/>
<text x="39.30" y="229.99" font-size="8.20" text-anchor="end" textLength="15.10" lengthAdjust="spacingAndGlyphs" fill="#333" stroke="#333" stroke-width="0.1">300%</text>
<line x1="42" y1="256.76" x2="45" y2="256.76" stroke="#262626" stroke-width="1.1"/>
<text x="39.30" y="259.61" font-size="8.20" text-anchor="end" textLength="15.10" lengthAdjust="spacingAndGlyphs" fill="#333" stroke="#333" stroke-width="0.1">200%</text>
<line x1="42" y1="286.38" x2="45" y2="286.38" stroke="#262626" stroke-width="1.1"/>
<text x="39.30" y="289.23" font-size="8.20" text-anchor="end" textLength="15.10" lengthAdjust="spacingAndGlyphs" fill="#333" stroke="#333" stroke-width="0.1">100%</text>
<line x1="42" y1="316.00" x2="45" y2="316.00" stroke="#262626" stroke-width="1.1"/>
<text x="39.30" y="318.85" font-size="8.20" text-anchor="end" textLength="8.53" lengthAdjust="spacingAndGlyphs" fill="#333" stroke="#333" stroke-width="0.1">0%</text>
<line x1="42" y1="345.62" x2="45" y2="345.62" stroke="#262626" stroke-width="1.1"/>
<text x="39.30" y="348.47" font-size="8.20" text-anchor="end" textLength="17.07" lengthAdjust="spacingAndGlyphs" fill="#333" stroke="#333" stroke-width="0.1">-100%</text>
<line x1="49.00" y1="351.10" x2="49.00" y2="354.30" stroke="#262626" stroke-width="1.1"/>
<text x="54.00" y="357.70" font-size="7.20" text-anchor="end" textLength="13.50" lengthAdjust="spacingAndGlyphs" fill="#333" transform="rotate(-90 54.00 357.70)" stroke="#333" stroke-width="0.2">1760</text>
<line x1="61.22" y1="351.10" x2="61.22" y2="354.30" stroke="#262626" stroke-width="1.1"/>
<text x="66.22" y="357.70" font-size="7.20" text-anchor="end" textLength="13.50" lengthAdjust="spacingAndGlyphs" fill="#333" transform="rotate(-90 66.22 357.70)" stroke="#333" stroke-width="0.2">1797</text>
<line x1="73.44" y1="351.10" x2="73.44" y2="354.30" stroke="#262626" stroke-width="1.1"/>
<text x="78.44" y="357.70" font-size="7.20" text-anchor="end" textLength="13.50" lengthAdjust="spacingAndGlyphs" fill="#333" transform="rotate(-90 78.44 357.70)" stroke="#333" stroke-width="0.2">1860</text>
<line x1="85.66" y1="351.10" x2="85.66" y2="354.30" stroke="#262626" stroke-width="1.1"/>
<text x="90.66" y="357.70" font-size="7.20" text-anchor="end" textLength="13.50" lengthAdjust="spacingAndGlyphs" fill="#333" transform="rotate(-90 90.66 357.70)" stroke="#333" stroke-width="0.2">1900</text>
<line x1="97.88" y1="351.10" x2="97.88" y2="354.30" stroke="#262626" stroke-width="1.1"/>
<text x="102.88" y="357.70" font-size="7.20" text-anchor="end" textLength="13.50" lengthAdjust="spacingAndGlyphs" fill="#333" transform="rotate(-90 102.88 357.70)" stroke="#333" stroke-width="0.2">1950</text>
<line x1="110.30" y1="351.10" x2="110.30" y2="354.30" stroke="#262626" stroke-width="1.1"/>
<text x="115.30" y="357.70" font-size="7.20" text-anchor="end" textLength="13.50" lengthAdjust="spacingAndGlyphs" fill="#333" transform="rotate(-90 115.30 357.70)" stroke="#333" stroke-width="0.2">1760</text>
<line x1="122.52" y1="351.10" x2="122.52" y2="354.30" stroke="#262626" stroke-width="1.1"/>
<text x="127.52" y="357.70" font-size="7.20" text-anchor="end" textLength="13.50" lengthAdjust="spacingAndGlyphs" fill="#333" transform="rotate(-90 127.52 357.70)" stroke="#333" stroke-width="0.2">1797</text>
<line x1="134.74" y1="351.10" x2="134.74" y2="354.30" stroke="#262626" stroke-width="1.1"/>
<text x="139.74" y="357.70" font-size="7.20" text-anchor="end" textLength="13.50" lengthAdjust="spacingAndGlyphs" fill="#333" transform="rotate(-90 139.74 357.70)" stroke="#333" stroke-width="0.2">1860</text>
<line x1="146.96" y1="351.10" x2="146.96" y2="354.30" stroke="#262626" stroke-width="1.1"/>
<text x="151.96" y="357.70" font-size="7.20" text-anchor="end" textLength="13.50" lengthAdjust="spacingAndGlyphs" fill="#333" transform="rotate(-90 151.96 357.70)" stroke="#333" stroke-width="0.2">1900</text>
<line x1="159.18" y1="351.10" x2="159.18" y2="354.30" stroke="#262626" stroke-width="1.1"/>
<text x="164.18" y="357.70" font-size="7.20" text-anchor="end" textLength="13.50" lengthAdjust="spacingAndGlyphs" fill="#333" transform="rotate(-90 164.18 357.70)" stroke="#333" stroke-width="0.2">1950</text>
<line x1="171.60" y1="351.10" x2="171.60" y2="354.30" stroke="#262626" stroke-width="1.1"/>
<text x="176.60" y="357.70" font-size="7.20" text-anchor="end" textLength="13.50" lengthAdjust="spacingAndGlyphs" fill="#333" transform="rotate(-90 176.60 357.70)" stroke="#333" stroke-width="0.2">1760</text>
<line x1="183.82" y1="351.10" x2="183.82" y2="354.30" stroke="#262626" stroke-width="1.1"/>
<text x="188.82" y="357.70" font-size="7.20" text-anchor="end" textLength="13.50" lengthAdjust="spacingAndGlyphs" fill="#333" transform="rotate(-90 188.82 357.70)" stroke="#333" stroke-width="0.2">1797</text>
<line x1="196.04" y1="351.10" x2="196.04" y2="354.30" stroke="#262626" stroke-width="1.1"/>
<text x="201.04" y="357.70" font-size="7.20" text-anchor="end" textLength="13.50" lengthAdjust="spacingAndGlyphs" fill="#333" transform="rotate(-90 201.04 357.70)" stroke="#333" stroke-width="0.2">1860</text>
<line x1="208.26" y1="351.10" x2="208.26" y2="354.30" stroke="#262626" stroke-width="1.1"/>
<text x="213.26" y="357.70" font-size="7.20" text-anchor="end" textLength="13.50" lengthAdjust="spacingAndGlyphs" fill="#333" transform="rotate(-90 213.26 357.70)" stroke="#333" stroke-width="0.2">1900</text>
<line x1="220.48" y1="351.10" x2="220.48" y2="354.30" stroke="#262626" stroke-width="1.1"/>
<text x="225.48" y="357.70" font-size="7.20" text-anchor="end" textLength="13.50" lengthAdjust="spacingAndGlyphs" fill="#333" transform="rotate(-90 225.48 357.70)" stroke="#333" stroke-width="0.2">1950</text>
<line x1="232.90" y1="351.10" x2="232.90" y2="354.30" stroke="#262626" stroke-width="1.1"/>
<text x="237.90" y="357.70" font-size="7.20" text-anchor="end" textLength="13.50" lengthAdjust="spacingAndGlyphs" fill="#333" transform="rotate(-90 237.90 357.70)" stroke="#333" stroke-width="0.2">1760</text>
<line x1="245.12" y1="351.10" x2="245.12" y2="354.30" stroke="#262626" stroke-width="1.1"/>
<text x="250.12" y="357.70" font-size="7.20" text-anchor="end" textLength="13.50" lengthAdjust="spacingAndGlyphs" fill="#333" transform="rotate(-90 250.12 357.70)" stroke="#333" stroke-width="0.2">1797</text>
<line x1="257.34" y1="351.10" x2="257.34" y2="354.30" stroke="#262626" stroke-width="1.1"/>
<text x="262.34" y="357.70" font-size="7.20" text-anchor="end" textLength="13.50" lengthAdjust="spacingAndGlyphs" fill="#333" transform="rotate(-90 262.34 357.70)" stroke="#333" stroke-width="0.2">1860</text>
<line x1="269.56" y1="351.10" x2="269.56" y2="354.30" stroke="#262626" stroke-width="1.1"/>
<text x="274.56" y="357.70" font-size="7.20" text-anchor="end" textLength="13.50" lengthAdjust="spacingAndGlyphs" fill="#333" transform="rotate(-90 274.56 357.70)" stroke="#333" stroke-width="0.2">1900</text>
<line x1="281.78" y1="351.10" x2="281.78" y2="354.30" stroke="#262626" stroke-width="1.1"/>
<text x="286.78" y="357.70" font-size="7.20" text-anchor="end" textLength="13.50" lengthAdjust="spacingAndGlyphs" fill="#333" transform="rotate(-90 286.78 357.70)" stroke="#333" stroke-width="0.2">1950</text>
<line x1="294.20" y1="351.10" x2="294.20" y2="354.30" stroke="#262626" stroke-width="1.1"/>
<text x="299.20" y="357.70" font-size="7.20" text-anchor="end" textLength="13.50" lengthAdjust="spacingAndGlyphs" fill="#333" transform="rotate(-90 299.20 357.70)" stroke="#333" stroke-width="0.2">1760</text>
<line x1="306.42" y1="351.10" x2="306.42" y2="354.30" stroke="#262626" stroke-width="1.1"/>
<text x="311.42" y="357.70" font-size="7.20" text-anchor="end" textLength="13.50" lengthAdjust="spacingAndGlyphs" fill="#333" transform="rotate(-90 311.42 357.70)" stroke="#333" stroke-width="0.2">1797</text>
<line x1="318.64" y1="351.10" x2="318.64" y2="354.30" stroke="#262626" stroke-width="1.1"/>
<text x="323.64" y="357.70" font-size="7.20" text-anchor="end" textLength="13.50" lengthAdjust="spacingAndGlyphs" fill="#333" transform="rotate(-90 323.64 357.70)" stroke="#333" stroke-width="0.2">1860</text>
<line x1="330.86" y1="351.10" x2="330.86" y2="354.30" stroke="#262626" stroke-width="1.1"/>
<text x="335.86" y="357.70" font-size="7.20" text-anchor="end" textLength="13.50" lengthAdjust="spacingAndGlyphs" fill="#333" transform="rotate(-90 335.86 357.70)" stroke="#333" stroke-width="0.2">1900</text>
<line x1="343.08" y1="351.10" x2="343.08" y2="354.30" stroke="#262626" stroke-width="1.1"/>
<text x="348.08" y="357.70" font-size="7.20" text-anchor="end" textLength="13.50" lengthAdjust="spacingAndGlyphs" fill="#333" transform="rotate(-90 348.08 357.70)" stroke="#333" stroke-width="0.2">1950</text>
<line x1="355.50" y1="351.10" x2="355.50" y2="354.30" stroke="#262626" stroke-width="1.1"/>
<text x="360.50" y="357.70" font-size="7.20" text-anchor="end" textLength="13.50" lengthAdjust="spacingAndGlyphs" fill="#333" transform="rotate(-90 360.50 357.70)" stroke="#333" stroke-width="0.2">1760</text>
<line x1="367.72" y1="351.10" x2="367.72" y2="354.30" stroke="#262626" stroke-width="1.1"/>
<text x="372.72" y="357.70" font-size="7.20" text-anchor="end" textLength="13.50" lengthAdjust="spacingAndGlyphs" fill="#333" transform="rotate(-90 372.72 357.70)" stroke="#333" stroke-width="0.2">1797</text>
<line x1="379.94" y1="351.10" x2="379.94" y2="354.30" stroke="#262626" stroke-width="1.1"/>
<text x="384.94" y="357.70" font-size="7.20" text-anchor="end" textLength="13.50" lengthAdjust="spacingAndGlyphs" fill="#333" transform="rotate(-90 384.94 357.70)" stroke="#333" stroke-width="0.2">1860</text>
<line x1="392.16" y1="351.10" x2="392.16" y2="354.30" stroke="#262626" stroke-width="1.1"/>
<text x="397.16" y="357.70" font-size="7.20" text-anchor="end" textLength="13.50" lengthAdjust="spacingAndGlyphs" fill="#333" transform="rotate(-90 397.16 357.70)" stroke="#333" stroke-width="0.2">1900</text>
<line x1="404.38" y1="351.10" x2="404.38" y2="354.30" stroke="#262626" stroke-width="1.1"/>
<text x="409.38" y="357.70" font-size="7.20" text-anchor="end" textLength="13.50" lengthAdjust="spacingAndGlyphs" fill="#333" transform="rotate(-90 409.38 357.70)" stroke="#333" stroke-width="0.2">1950</text>
<line x1="416.80" y1="351.10" x2="416.80" y2="354.30" stroke="#262626" stroke-width="1.1"/>
<text x="421.80" y="357.70" font-size="7.20" text-anchor="end" textLength="13.50" lengthAdjust="spacingAndGlyphs" fill="#333" transform="rotate(-90 421.80 357.70)" stroke="#333" stroke-width="0.2">1760</text>
<line x1="429.02" y1="351.10" x2="429.02" y2="354.30" stroke="#262626" stroke-width="1.1"/>
<text x="434.02" y="357.70" font-size="7.20" text-anchor="end" textLength="13.50" lengthAdjust="spacingAndGlyphs" fill="#333" transform="rotate(-90 434.02 357.70)" stroke="#333" stroke-width="0.2">1797</text>
<line x1="441.24" y1="351.10" x2="441.24" y2="354.30" stroke="#262626" stroke-width="1.1"/>
<text x="446.24" y="357.70" font-size="7.20" text-anchor="end" textLength="13.50" lengthAdjust="spacingAndGlyphs" fill="#333" transform="rotate(-90 446.24 357.70)" stroke="#333" stroke-width="0.2">1860</text>
<line x1="453.46" y1="351.10" x2="453.46" y2="354.30" stroke="#262626" stroke-width="1.1"/>
<text x="458.46" y="357.70" font-size="7.20" text-anchor="end" textLength="13.50" lengthAdjust="spacingAndGlyphs" fill="#333" transform="rotate(-90 458.46 357.70)" stroke="#333" stroke-width="0.2">1900</text>
<line x1="465.68" y1="351.10" x2="465.68" y2="354.30" stroke="#262626" stroke-width="1.1"/>
<text x="470.68" y="357.70" font-size="7.20" text-anchor="end" textLength="13.50" lengthAdjust="spacingAndGlyphs" fill="#333" transform="rotate(-90 470.68 357.70)" stroke="#333" stroke-width="0.2">1950</text>
<line x1="478.10" y1="351.10" x2="478.10" y2="354.30" stroke="#262626" stroke-width="1.1"/>
<text x="483.10" y="357.70" font-size="7.20" text-anchor="end" textLength="13.50" lengthAdjust="spacingAndGlyphs" fill="#333" transform="rotate(-90 483.10 357.70)" stroke="#333" stroke-width="0.2">1760</text>
<line x1="490.32" y1="351.10" x2="490.32" y2="354.30" stroke="#262626" stroke-width="1.1"/>
<text x="495.32" y="357.70" font-size="7.20" text-anchor="end" textLength="13.50" lengthAdjust="spacingAndGlyphs" fill="#333" transform="rotate(-90 495.32 357.70)" stroke="#333" stroke-width="0.2">1797</text>
<line x1="502.54" y1="351.10" x2="502.54" y2="354.30" stroke="#262626" stroke-width="1.1"/>
<text x="507.54" y="357.70" font-size="7.20" text-anchor="end" textLength="13.50" lengthAdjust="spacingAndGlyphs" fill="#333" transform="rotate(-90 507.54 357.70)" stroke="#333" stroke-width="0.2">1860</text>
<line x1="514.76" y1="351.10" x2="514.76" y2="354.30" stroke="#262626" stroke-width="1.1"/>
<text x="519.76" y="357.70" font-size="7.20" text-anchor="end" textLength="13.50" lengthAdjust="spacingAndGlyphs" fill="#333" transform="rotate(-90 519.76 357.70)" stroke="#333" stroke-width="0.2">1900</text>
<line x1="526.98" y1="351.10" x2="526.98" y2="354.30" stroke="#262626" stroke-width="1.1"/>
<text x="531.98" y="357.70" font-size="7.20" text-anchor="end" textLength="13.50" lengthAdjust="spacingAndGlyphs" fill="#333" transform="rotate(-90 531.98 357.70)" stroke="#333" stroke-width="0.2">1950</text>
<line x1="539.40" y1="351.10" x2="539.40" y2="354.30" stroke="#262626" stroke-width="1.1"/>
<text x="544.40" y="357.70" font-size="7.20" text-anchor="end" textLength="13.50" lengthAdjust="spacingAndGlyphs" fill="#333" transform="rotate(-90 544.40 357.70)" stroke="#333" stroke-width="0.2">1760</text>
<line x1="551.62" y1="351.10" x2="551.62" y2="354.30" stroke="#262626" stroke-width="1.1"/>
<text x="556.62" y="357.70" font-size="7.20" text-anchor="end" textLength="13.50" lengthAdjust="spacingAndGlyphs" fill="#333" transform="rotate(-90 556.62 357.70)" stroke="#333" stroke-width="0.2">1797</text>
<line x1="563.84" y1="351.10" x2="563.84" y2="354.30" stroke="#262626" stroke-width="1.1"/>
<text x="568.84" y="357.70" font-size="7.20" text-anchor="end" textLength="13.50" lengthAdjust="spacingAndGlyphs" fill="#333" transform="rotate(-90 568.84 357.70)" stroke="#333" stroke-width="0.2">1860</text>
<line x1="576.06" y1="351.10" x2="576.06" y2="354.30" stroke="#262626" stroke-width="1.1"/>
<text x="581.06" y="357.70" font-size="7.20" text-anchor="end" textLength="13.50" lengthAdjust="spacingAndGlyphs" fill="#333" transform="rotate(-90 581.06 357.70)" stroke="#333" stroke-width="0.2">1900</text>
<line x1="588.28" y1="351.10" x2="588.28" y2="354.30" stroke="#262626" stroke-width="1.1"/>
<text x="593.28" y="357.70" font-size="7.20" text-anchor="end" textLength="13.50" lengthAdjust="spacingAndGlyphs" fill="#333" transform="rotate(-90 593.28 357.70)" stroke="#333" stroke-width="0.2">1950</text>
<text x="349.00" y="384.00" font-size="9.80" text-anchor="middle" textLength="17.70" lengthAdjust="spacingAndGlyphs" fill="#1a1a1a" stroke="#1a1a1a" stroke-width="0.15">Year</text>
<text x="17.00" y="206.20" font-size="10.60" text-anchor="middle" textLength="109.70" lengthAdjust="spacingAndGlyphs" fill="#1a1a1a" transform="rotate(-90 17.00 206.20)" stroke="#1a1a1a" stroke-width="0.15">Percent Population Change</text>
<text x="6.70" y="410.50" font-size="15.60" font-weight="bold">B</text>
<text x="48.30" y="411.70" font-size="16.80" textLength="389.40" lengthAdjust="spacingAndGlyphs" stroke="#000" stroke-width="0.5">Net Percent Population Change from 1760 to 1950</text>
<text x="48.30" y="428.60" font-size="12.00" font-style="italic" textLength="154.00" lengthAdjust="spacingAndGlyphs">Arranged from East to West</text>
<rect x="48.60" y="435.40" width="604.20" height="96.00" fill="#fff"/>
<line x1="66.80" y1="435.40" x2="66.80" y2="531.40" stroke="#EBEBEB" stroke-width="0.9"/>
<line x1="98.32" y1="435.40" x2="98.32" y2="531.40" stroke="#EBEBEB" stroke-width="0.9"/>
<line x1="129.84" y1="435.40" x2="129.84" y2="531.40" stroke="#EBEBEB" stroke-width="0.9"/>
<line x1="161.36" y1="435.40" x2="161.36" y2="531.40" stroke="#EBEBEB" stroke-width="0.9"/>
<line x1="192.88" y1="435.40" x2="192.88" y2="531.40" stroke="#EBEBEB" stroke-width="0.9"/>
<line x1="224.40" y1="435.40" x2="224.40" y2="531.40" stroke="#EBEBEB" stroke-width="0.9"/>
<line x1="255.92" y1="435.40" x2="255.92" y2="531.40" stroke="#EBEBEB" stroke-width="0.9"/>
<line x1="287.44" y1="435.40" x2="287.44" y2="531.40" stroke="#EBEBEB" stroke-width="0.9"/>
<line x1="318.96" y1="435.40" x2="318.96" y2="531.40" stroke="#EBEBEB" stroke-width="0.9"/>
<line x1="350.48" y1="435.40" x2="350.48" y2="531.40" stroke="#EBEBEB" stroke-width="0.9"/>
<line x1="382.00" y1="435.40" x2="382.00" y2="531.40" stroke="#EBEBEB" stroke-width="0.9"/>
<line x1="413.52" y1="435.40" x2="413.52" y2="531.40" stroke="#EBEBEB" stroke-width="0.9"/>
<line x1="445.04" y1="435.40" x2="445.04" y2="531.40" stroke="#EBEBEB" stroke-width="0.9"/>
<line x1="476.56" y1="435.40" x2="476.56" y2="531.40" stroke="#EBEBEB" stroke-width="0.9"/>
<line x1="508.08" y1="435.40" x2="508.08" y2="531.40" stroke="#EBEBEB" stroke-width="0.9"/>
<line x1="539.60" y1="435.40" x2="539.60" y2="531.40" stroke="#EBEBEB" stroke-width="0.9"/>
<line x1="571.12" y1="435.40" x2="571.12" y2="531.40" stroke="#EBEBEB" stroke-width="0.9"/>
<line x1="602.64" y1="435.40" x2="602.64" y2="531.40" stroke="#EBEBEB" stroke-width="0.9"/>
<line x1="634.16" y1="435.40" x2="634.16" y2="531.40" stroke="#EBEBEB" stroke-width="0.9"/>
<line x1="48.60" y1="436.00" x2="652.80" y2="436.00" stroke="#EBEBEB" stroke-width="0.9"/>
<line x1="48.60" y1="447.50" x2="652.80" y2="447.50" stroke="#EBEBEB" stroke-width="0.9"/>
<line x1="48.60" y1="459.00" x2="652.80" y2="459.00" stroke="#EBEBEB" stroke-width="0.9"/>
<line x1="48.60" y1="470.50" x2="652.80" y2="470.50" stroke="#EBEBEB" stroke-width="0.9"/>
<line x1="48.60" y1="482.00" x2="652.80" y2="482.00" stroke="#EBEBEB" stroke-width="0.9"/>
<line x1="48.60" y1="493.50" x2="652.80" y2="493.50" stroke="#EBEBEB" stroke-width="0.9"/>
<line x1="48.60" y1="516.50" x2="652.80" y2="516.50" stroke="#EBEBEB" stroke-width="0.9"/>
<line x1="48.60" y1="528.00" x2="652.80" y2="528.00" stroke="#EBEBEB" stroke-width="0.9"/>
<rect x="52.60" y="489.82" width="28.40" height="15.18" fill="#87CEEB"/>
<rect x="84.12" y="505.00" width="28.40" height="15.87" fill="#4A6F8A"/>
<rect x="115.64" y="505.00" width="28.40" height="11.87" fill="#4A6F8A"/>
<rect x="147.16" y="505.00" width="28.40" height="8.51" fill="#4A6F8A"/>
<rect x="178.68" y="505.00" width="28.40" height="22.06" fill="#4A6F8A"/>
<rect x="210.20" y="505.00" width="28.40" height="11.41" fill="#4A6F8A"/>
<rect x="241.72" y="505.00" width="28.40" height="15.69" fill="#4A6F8A"/>
<rect x="273.24" y="482.48" width="28.40" height="22.52" fill="#87CEEB"/>
<rect x="304.76" y="505.00" width="28.40" height="8.07" fill="#4A6F8A"/>
<rect x="336.28" y="475.33" width="28.40" height="29.67" fill="#87CEEB"/>
<rect x="367.80" y="492.03" width="28.40" height="12.97" fill="#87CEEB"/>
<rect x="399.32" y="505.00" width="28.40" height="11.27" fill="#4A6F8A"/>
<rect x="430.84" y="505.00" width="28.40" height="6.99" fill="#4A6F8A"/>
<rect x="462.36" y="448.93" width="28.40" height="56.07" fill="#87CEEB"/>
<rect x="493.88" y="505.00" width="28.40" height="17.09" fill="#4A6F8A"/>
<rect x="525.40" y="479.93" width="28.40" height="25.07" fill="#87CEEB"/>
<rect x="556.92" y="464.98" width="28.40" height="40.02" fill="#87CEEB"/>
<rect x="588.44" y="498.17" width="28.40" height="6.83" fill="#87CEEB"/>
<rect x="619.96" y="439.33" width="28.40" height="65.67" fill="#87CEEB"/>
<line x1="48.60" y1="505.00" x2="652.80" y2="505.00" stroke="#7F7F7F" stroke-width="1.2"/>
<polyline points="66.80,507.96 73.98,508.45 81.16,508.90 88.35,509.33 95.53,509.72 102.71,510.07 109.89,510.40 117.07,510.69 124.25,510.95 131.44,511.18 138.62,511.38 145.80,511.55 152.98,511.69 160.16,511.80 167.34,511.88 174.53,511.92 181.71,511.94 188.89,511.93 196.07,511.89 203.25,511.82 210.44,511.72 217.62,511.60 224.80,511.44 231.98,511.26 239.16,511.05 246.34,510.81 253.53,510.54 260.71,510.25 267.89,509.93 275.07,509.58 282.25,509.21 289.43,508.81 296.62,508.38 303.80,507.93 310.98,507.45 318.16,506.95 325.34,506.42 332.53,505.87 339.71,505.29 346.89,504.68 354.07,504.06 361.25,503.41 368.43,502.73 375.62,502.03 382.80,501.31 389.98,500.56 397.16,499.79 404.34,499.00 411.53,498.18 418.71,497.35 425.89,496.49 433.07,495.61 440.25,494.70 447.43,493.78 454.62,492.83 461.80,491.87 468.98,490.88 476.16,489.87 483.34,488.84 490.52,487.79 497.71,486.72 504.89,485.63 512.07,484.53 519.25,483.40 526.43,482.25 533.62,481.08 540.80,479.90 547.98,478.70 555.16,477.48 562.34,476.24 569.52,474.98 576.71,473.71 583.89,472.41 591.07,471.10 598.25,469.78 605.43,468.44 612.61,467.08 619.80,465.70 626.98,464.31 634.16,462.90" fill="none" stroke="#FF3333" stroke-width="1.2"/>
<rect x="48.60" y="435.40" width="604.20" height="96.00" fill="none" stroke="#9a9a9a" stroke-width="0.9"/>
<line x1="44.8" y1="436.00" x2="48.2" y2="436.00" stroke="#262626" stroke-width="1.1"/>
<text x="41.50" y="439.30" font-size="8.00" text-anchor="end" textLength="16.56" lengthAdjust="spacingAndGlyphs" fill="#333" stroke="#333" stroke-width="0.2">300%</text>
<line x1="44.8" y1="447.50" x2="48.2" y2="447.50" stroke="#262626" stroke-width="1.1"/>
<text x="41.50" y="450.80" font-size="8.00" text-anchor="end" textLength="16.56" lengthAdjust="spacingAndGlyphs" fill="#333" stroke="#333" stroke-width="0.2">250%</text>
<line x1="44.8" y1="459.00" x2="48.2" y2="459.00" stroke="#262626" stroke-width="1.1"/>
<text x="41.50" y="462.30" font-size="8.00" text-anchor="end" textLength="16.56" lengthAdjust="spacingAndGlyphs" fill="#333" stroke="#333" stroke-width="0.2">200%</text>
<line x1="44.8" y1="470.50" x2="48.2" y2="470.50" stroke="#262626" stroke-width="1.1"/>
<text x="41.50" y="473.80" font-size="8.00" text-anchor="end" textLength="16.56" lengthAdjust="spacingAndGlyphs" fill="#333" stroke="#333" stroke-width="0.2">150%</text>
<line x1="44.8" y1="482.00" x2="48.2" y2="482.00" stroke="#262626" stroke-width="1.1"/>
<text x="41.50" y="485.30" font-size="8.00" text-anchor="end" textLength="16.56" lengthAdjust="spacingAndGlyphs" fill="#333" stroke="#333" stroke-width="0.2">100%</text>
<line x1="44.8" y1="493.50" x2="48.2" y2="493.50" stroke="#262626" stroke-width="1.1"/>
<text x="41.50" y="496.80" font-size="8.00" text-anchor="end" textLength="12.96" lengthAdjust="spacingAndGlyphs" fill="#333" stroke="#333" stroke-width="0.2">50%</text>
<line x1="44.8" y1="505.00" x2="48.2" y2="505.00" stroke="#262626" stroke-width="1.1"/>
<text x="41.50" y="508.30" font-size="8.00" text-anchor="end" textLength="9.36" lengthAdjust="spacingAndGlyphs" fill="#333" stroke="#333" stroke-width="0.2">0%</text>
<line x1="44.8" y1="516.50" x2="48.2" y2="516.50" stroke="#262626" stroke-width="1.1"/>
<text x="41.50" y="519.80" font-size="8.00" text-anchor="end" textLength="15.11" lengthAdjust="spacingAndGlyphs" fill="#333" stroke="#333" stroke-width="0.2">-50%</text>
<line x1="44.8" y1="528.00" x2="48.2" y2="528.00" stroke="#262626" stroke-width="1.1"/>
<text x="41.50" y="531.30" font-size="8.00" text-anchor="end" textLength="18.71" lengthAdjust="spacingAndGlyphs" fill="#333" stroke="#333" stroke-width="0.2">-100%</text>
<line x1="66.80" y1="531.80" x2="66.80" y2="535.00" stroke="#262626" stroke-width="1.1"/>
<text x="73.40" y="538.00" font-size="9.20" text-anchor="end" textLength="18.85" lengthAdjust="spacingAndGlyphs" fill="#1a1a1a" transform="rotate(-90 73.40 538.00)" stroke="#1a1a1a" stroke-width="0.2">Toas</text>
<line x1="98.32" y1="531.80" x2="98.32" y2="535.00" stroke="#262626" stroke-width="1.1"/>
<text x="104.92" y="538.00" font-size="9.20" text-anchor="end" textLength="26.78" lengthAdjust="spacingAndGlyphs" fill="#1a1a1a" transform="rotate(-90 104.92 538.00)" stroke="#1a1a1a" stroke-width="0.2">Picuris</text>
<line x1="129.84" y1="531.80" x2="129.84" y2="535.00" stroke="#262626" stroke-width="1.1"/>
<text x="136.44" y="538.00" font-size="9.20" text-anchor="end" textLength="28.77" lengthAdjust="spacingAndGlyphs" fill="#1a1a1a" transform="rotate(-90 136.44 538.00)" stroke="#1a1a1a" stroke-width="0.2">Nambe</text>
<line x1="161.36" y1="531.80" x2="161.36" y2="535.00" stroke="#262626" stroke-width="1.1"/>
<text x="167.96" y="538.00" font-size="9.20" text-anchor="end" textLength="33.74" lengthAdjust="spacingAndGlyphs" fill="#1a1a1a" transform="rotate(-90 167.96 538.00)" stroke="#1a1a1a" stroke-width="0.2">Tesuque</text>
<line x1="192.88" y1="531.80" x2="192.88" y2="535.00" stroke="#262626" stroke-width="1.1"/>
<text x="199.48" y="538.00" font-size="9.20" text-anchor="end" textLength="37.71" lengthAdjust="spacingAndGlyphs" fill="#1a1a1a" transform="rotate(-90 199.48 538.00)" stroke="#1a1a1a" stroke-width="0.2">Pojoaque</text>
<line x1="224.40" y1="531.80" x2="224.40" y2="535.00" stroke="#262626" stroke-width="1.1"/>
<text x="231.00" y="538.00" font-size="9.20" text-anchor="end" textLength="37.71" lengthAdjust="spacingAndGlyphs" fill="#1a1a1a" transform="rotate(-90 231.00 538.00)" stroke="#1a1a1a" stroke-width="0.2">San Juan</text>
<line x1="255.92" y1="531.80" x2="255.92" y2="535.00" stroke="#262626" stroke-width="1.1"/>
<text x="262.52" y="538.00" font-size="9.20" text-anchor="end" textLength="54.57" lengthAdjust="spacingAndGlyphs" fill="#1a1a1a" transform="rotate(-90 262.52 538.00)" stroke="#1a1a1a" stroke-width="0.2">San Ildefonso</text>
<line x1="287.44" y1="531.80" x2="287.44" y2="535.00" stroke="#262626" stroke-width="1.1"/>
<text x="294.04" y="538.00" font-size="9.20" text-anchor="end" textLength="47.12" lengthAdjust="spacingAndGlyphs" fill="#1a1a1a" transform="rotate(-90 294.04 538.00)" stroke="#1a1a1a" stroke-width="0.2">Santa Clara</text>
<line x1="318.96" y1="531.80" x2="318.96" y2="535.00" stroke="#262626" stroke-width="1.1"/>
<text x="325.56" y="538.00" font-size="9.20" text-anchor="end" textLength="27.28" lengthAdjust="spacingAndGlyphs" fill="#1a1a1a" transform="rotate(-90 325.56 538.00)" stroke="#1a1a1a" stroke-width="0.2">Cochiti</text>
<line x1="350.48" y1="531.80" x2="350.48" y2="535.00" stroke="#262626" stroke-width="1.1"/>
<text x="357.08" y="538.00" font-size="9.20" text-anchor="end" textLength="61.51" lengthAdjust="spacingAndGlyphs" fill="#1a1a1a" transform="rotate(-90 357.08 538.00)" stroke="#1a1a1a" stroke-width="0.2">Santo Domingo</text>
<line x1="382.00" y1="531.80" x2="382.00" y2="535.00" stroke="#262626" stroke-width="1.1"/>
<text x="388.60" y="538.00" font-size="9.20" text-anchor="end" textLength="42.66" lengthAdjust="spacingAndGlyphs" fill="#1a1a1a" transform="rotate(-90 388.60 538.00)" stroke="#1a1a1a" stroke-width="0.2">San Felipe</text>
<line x1="413.52" y1="531.80" x2="413.52" y2="535.00" stroke="#262626" stroke-width="1.1"/>
<text x="420.12" y="538.00" font-size="9.20" text-anchor="end" textLength="27.79" lengthAdjust="spacingAndGlyphs" fill="#1a1a1a" transform="rotate(-90 420.12 538.00)" stroke="#1a1a1a" stroke-width="0.2">Sandia</text>
<line x1="445.04" y1="531.80" x2="445.04" y2="535.00" stroke="#262626" stroke-width="1.1"/>
<text x="451.64" y="538.00" font-size="9.20" text-anchor="end" textLength="41.18" lengthAdjust="spacingAndGlyphs" fill="#1a1a1a" transform="rotate(-90 451.64 538.00)" stroke="#1a1a1a" stroke-width="0.2">Santa Ana</text>
<line x1="476.56" y1="531.80" x2="476.56" y2="535.00" stroke="#262626" stroke-width="1.1"/>
<text x="483.16" y="538.00" font-size="9.20" text-anchor="end" textLength="21.33" lengthAdjust="spacingAndGlyphs" fill="#1a1a1a" transform="rotate(-90 483.16 538.00)" stroke="#1a1a1a" stroke-width="0.2">Isleta</text>
<line x1="508.08" y1="531.80" x2="508.08" y2="535.00" stroke="#262626" stroke-width="1.1"/>
<text x="514.68" y="538.00" font-size="9.20" text-anchor="end" textLength="12.40" lengthAdjust="spacingAndGlyphs" fill="#1a1a1a" transform="rotate(-90 514.68 538.00)" stroke="#1a1a1a" stroke-width="0.2">Zia</text>
<line x1="539.60" y1="531.80" x2="539.60" y2="535.00" stroke="#262626" stroke-width="1.1"/>
<text x="546.20" y="538.00" font-size="9.20" text-anchor="end" textLength="26.28" lengthAdjust="spacingAndGlyphs" fill="#1a1a1a" transform="rotate(-90 546.20 538.00)" stroke="#1a1a1a" stroke-width="0.2">Jemez</text>
<line x1="571.12" y1="531.80" x2="571.12" y2="535.00" stroke="#262626" stroke-width="1.1"/>
<text x="577.72" y="538.00" font-size="9.20" text-anchor="end" textLength="29.78" lengthAdjust="spacingAndGlyphs" fill="#1a1a1a" transform="rotate(-90 577.72 538.00)" stroke="#1a1a1a" stroke-width="0.2">Laguna</text>
<line x1="602.64" y1="531.80" x2="602.64" y2="535.00" stroke="#262626" stroke-width="1.1"/>
<text x="609.24" y="538.00" font-size="9.20" text-anchor="end" textLength="27.77" lengthAdjust="spacingAndGlyphs" fill="#1a1a1a" transform="rotate(-90 609.24 538.00)" stroke="#1a1a1a" stroke-width="0.2">Acoma</text>
<line x1="634.16" y1="531.80" x2="634.16" y2="535.00" stroke="#262626" stroke-width="1.1"/>
<text x="640.76" y="538.00" font-size="9.20" text-anchor="end" textLength="17.36" lengthAdjust="spacingAndGlyphs" fill="#1a1a1a" transform="rotate(-90 640.76 538.00)" stroke="#1a1a1a" stroke-width="0.2">Zuni</text>
<text x="15.60" y="480.50" font-size="10.30" text-anchor="middle" textLength="104.80" lengthAdjust="spacingAndGlyphs" fill="#1a1a1a" transform="rotate(-90 15.60 480.50)" stroke="#1a1a1a" stroke-width="0.15">Percent Population Change</text>
<text x="48.7" y="611.3" font-size="8.4" fill="#1a1a1a" textLength="375.6" lengthAdjust="spacingAndGlyphs">Data: Zubrow, E.B.W. (1974), Population, Contact,and Climate in the <tspan font-style="italic">New Me</tspan>xican Pueblos</text>
</svg></body></html>
